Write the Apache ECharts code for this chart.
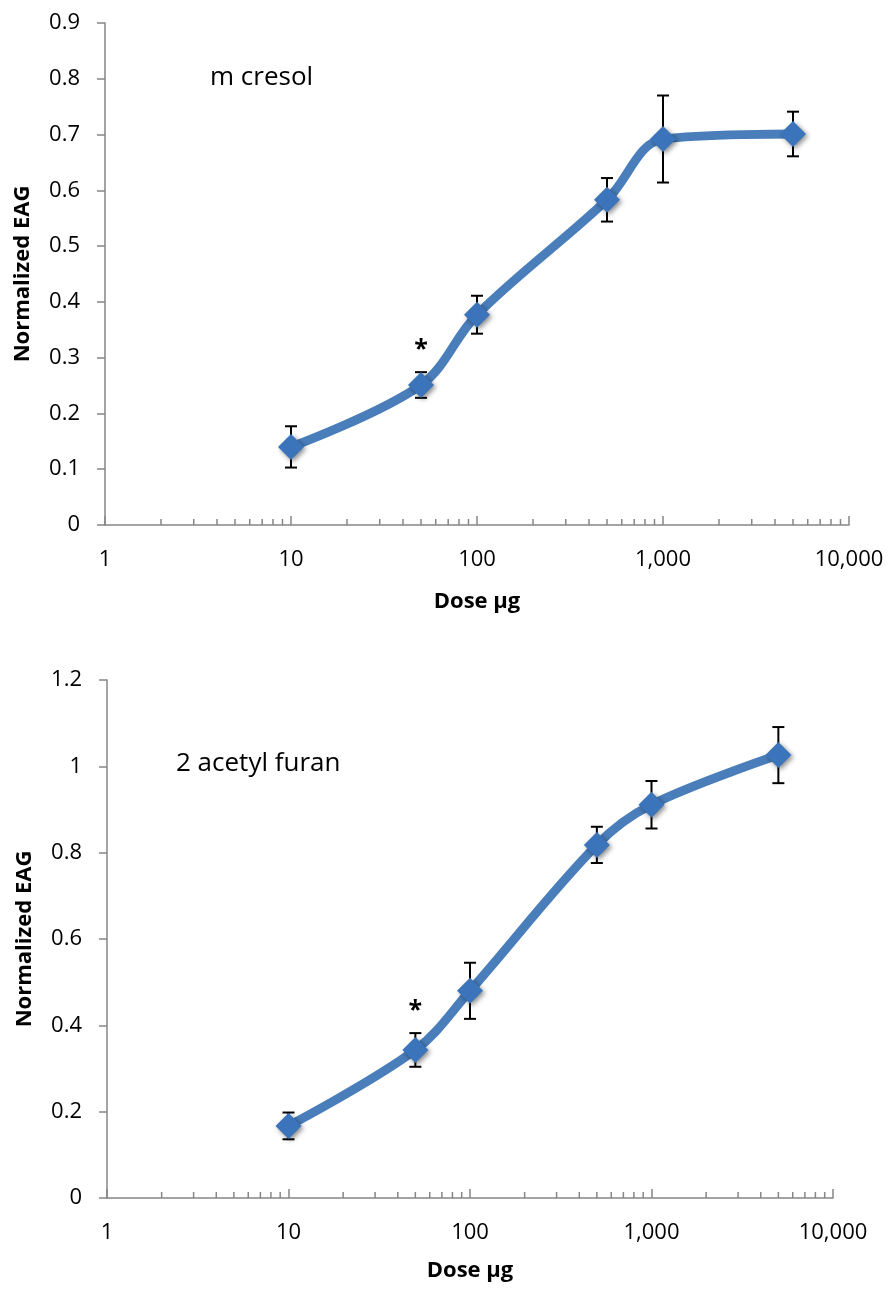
<!DOCTYPE html>
<html>
<head>
<meta charset="utf-8">
<script src="https://cdn.jsdelivr.net/npm/echarts@6/dist/echarts.min.js"></script>
<style>
html,body{margin:0;padding:0;background:#fff;}
#c{width:888px;height:1289px;}
</style>
</head>
<body>
<div id="c"></div>
<script>
// ---- data ----
const doses = [10, 50, 100, 500, 1000, 5000];
const cresolMean = [0.140, 0.251, 0.377, 0.583, 0.692, 0.701];
const cresolErr  = [0.037, 0.023, 0.034, 0.039, 0.078, 0.040];
const furanMean  = [0.167, 0.343, 0.480, 0.818, 0.911, 1.026];
const furanErr   = [0.031, 0.039, 0.065, 0.042, 0.055, 0.065];
const starDose = 50;
const xTickLabels = {1: '1', 10: '10', 100: '100', 1000: '1,000', 10000: '10,000'};
const minorTicks = [2,3,4,5,6,7,8,9,20,30,40,50,60,70,80,90,200,300,400,500,600,700,800,900,2000,3000,4000,5000,6000,7000,8000,9000];
const titles = ['m cresol', '2 acetyl furan'];

const FONT = '"Open Sans", "Noto Sans", sans-serif';
const LINE = '#4a7ebb';
const MARK = '#3b74ba';
const AX = '#868686';

function pairs(xs, ys){ return xs.map((x,i)=>[x, ys[i]]); }

function errSeries(g, mean, err){
  return {
    type: 'custom', xAxisIndex: g, yAxisIndex: g, z: 3,
    data: doses.map((d,i)=>[d, mean[i]-err[i], mean[i]+err[i]]),
    renderItem: function(params, api){
      const lo = api.coord([api.value(0), api.value(1)]);
      const hi = api.coord([api.value(0), api.value(2)]);
      const w = 6;
      const st = {stroke:'#000', lineWidth:2};
      const ch = [
        {type:'line', shape:{x1:lo[0],y1:lo[1],x2:hi[0],y2:hi[1]}, style:st},
        {type:'line', shape:{x1:lo[0]-w,y1:lo[1],x2:lo[0]+w,y2:lo[1]}, style:st},
        {type:'line', shape:{x1:hi[0]-w,y1:hi[1],x2:hi[0]+w,y2:hi[1]}, style:st}
      ];
      if (api.value(0) === starDose) {
        ch.push({type:'text', style:{text:'*', x:hi[0], y:hi[1]-10, align:'center', verticalAlign:'bottom', fill:'#000', font:'bold 25px ' + FONT}});
      }
      return {type:'group', children: ch};
    }
  };
}

function minorSeries(g){
  return {
    type:'custom', xAxisIndex:g, yAxisIndex:g, z:1, silent:true, clip:false,
    data: minorTicks.map(t=>[t,0]),
    renderItem: function(params, api){
      const p = api.coord([api.value(0), 0]);
      return {type:'line', shape:{x1:p[0],y1:p[1],x2:p[0],y2:p[1]-6}, style:{stroke:AX, lineWidth:1.5}};
    }
  };
}

function lineSeries(g, mean){
  return {
    type:'line', xAxisIndex:g, yAxisIndex:g, z:4,
    data: pairs(doses, mean),
    smooth: 0.35,
    lineStyle:{color:LINE, width:9},
    symbol:'diamond', symbolSize:26,
    itemStyle:{color:MARK, shadowBlur:5, shadowColor:'rgba(0,0,0,0.45)', shadowOffsetX:2, shadowOffsetY:2},
    emphasis:{disabled:true}
  };
}

function xAxis(g, gap){
  return {
    type:'log', logBase:10, min:1, max:10000, gridIndex:g,
    name:'Dose µg', nameLocation:'middle', nameGap:gap,
    nameTextStyle:{fontFamily:FONT, fontWeight:'bold', fontSize:22, color:'#000'},
    axisLine:{lineStyle:{color:AX, width:1.5}},
    axisTick:{show:true, inside:true, length:9, lineStyle:{color:AX, width:1.5}},
    axisLabel:{fontFamily:FONT, fontSize:22, color:'#000', margin:24, formatter:v=>xTickLabels[Math.round(v)] || ''},
    splitLine:{show:false}
  };
}
function yAxis(g, max, interval, gap){
  return {
    type:'value', min:0, max:max, interval:interval, gridIndex:g,
    name:'Normalized EAG', nameLocation:'middle', nameGap:gap,
    nameTextStyle:{fontFamily:FONT, fontWeight:'bold', fontSize:22, color:'#000'},
    axisLine:{show:true, lineStyle:{color:AX, width:1.5}},
    axisTick:{show:true, length:8, lineStyle:{color:AX, width:1.5}},
    axisLabel:{fontFamily:FONT, fontSize:22, color:'#000', margin:25},
    splitLine:{show:false}
  };
}

const chart = echarts.init(document.getElementById('c'), null, {renderer:'canvas'});
chart.setOption({
  backgroundColor:'#fff',
  animation:false,
  title:[
    {text:titles[0], left:205, top:60, textStyle:{fontFamily:FONT, fontWeight:'normal', fontSize:26, color:'#000'}},
    {text:titles[1], left:171, top:746, textStyle:{fontFamily:FONT, fontWeight:'normal', fontSize:26, color:'#000'}}
  ],
  grid:[
    {left:105, top:23, width:744, height:502, containLabel:false, outerBoundsMode:'none'},
    {left:107, top:680, width:726, height:518, containLabel:false, outerBoundsMode:'none'}
  ],
  xAxis:[xAxis(0, 66), xAxis(1, 62)],
  yAxis:[yAxis(0, 0.9, 0.1, 71), yAxis(1, 1.2, 0.2, 71)],
  series:[
    minorSeries(0), minorSeries(1),
    errSeries(0, cresolMean, cresolErr),
    errSeries(1, furanMean, furanErr),
    lineSeries(0, cresolMean),
    lineSeries(1, furanMean)
  ]
});
</script>
</body>
</html>
